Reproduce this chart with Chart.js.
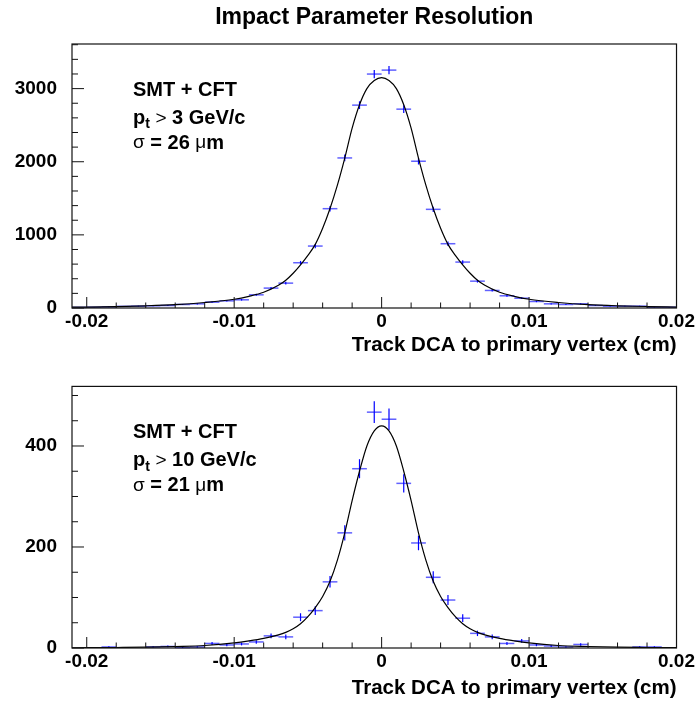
<!DOCTYPE html>
<html>
<head>
<meta charset="utf-8">
<script src="https://cdn.jsdelivr.net/npm/chart.js@4.4.0/dist/chart.umd.min.js"></script>
<style>
body { margin: 0; background: #fff; }
#wrap { position: relative; width: 697px; height: 702px; }
canvas { position: absolute; left: 0; }
</style>
</head>
<body>
<div id="wrap">
<canvas id="chart_3gev" width="697" height="360" style="top:0px"></canvas>
<canvas id="chart_10gev" width="697" height="342" style="top:360px"></canvas>
</div>
<script>
// DATA
const bin_centers = [-0.0205,-0.0195,-0.0185,-0.0175,-0.0165,-0.0155,-0.0145,-0.0135,-0.0125,-0.0115,
	-0.0105,-0.0095,-0.0085,-0.0075,-0.0065,-0.0055,-0.0045,-0.0035,-0.0025,-0.0015,-0.0005,
	0.0005,0.0015,0.0025,0.0035,0.0045,0.0055,0.0065,0.0075,0.0085,0.0095,
	0.0105,0.0115,0.0125,0.0135,0.0145,0.0155,0.0165,0.0175,0.0185,0.0195];

const counts_3gev = [8,10,15,22,25,30,34,48,57,80,
	98,112,180,272,340,619,847,1358,2052,2774,3199,
	3253,2719,2007,1349,879,628,367,240,167,134,
	89,57,48,57,34,25,25,25,10,10];

const counts_10gev = [0,0,2,0,0,2,3,1,2,9,
	6,8,12,24,22,61,74,131,228,355,467,
	453,326,208,140,95,59,29,22,9,14,
	6,4,2,7,0,0,0,2,2,0];

// fit curve
const fit_x = [-0.021,-0.02,-0.018,-0.016,-0.014,-0.012,-0.01,-0.009,-0.008,-0.007,-0.0065,-0.006,
	-0.0055,-0.005,-0.0045,-0.004,-0.0035,-0.003,-0.0025,-0.002,-0.0015,-0.001,-0.0005,0,
	0.0005,0.001,0.0015,0.002,0.0025,0.003,0.0035,0.004,0.0045,0.005,0.0055,
	0.006,0.0065,0.007,0.008,0.009,0.01,0.012,0.014,0.016,0.018,0.02];

const fit_3gev = [11,13,20,30,46,75,120,160,215,310,380,475,
	590,720,870,1090,1360,1680,2050,2460,2780,3000,3110,3150,
	3110,3000,2780,2460,2050,1680,1360,1090,870,720,590,
	475,380,310,215,160,120,75,46,30,20,13];

const fit_10gev = [0.5,0.6,1,1.6,3,5,10,14,19,26,31,38,
	48,62,80,102,132,174,228,292,350,400,430,440,
	430,400,350,292,228,174,132,102,80,62,48,
	38,31,26,19,14,10,5,3,1.6,1,0.6];

const x_ticks = [-0.02, -0.01, 0, 0.01, 0.02];
const x_tick_labels = ['-0.02', '-0.01', '0', '0.01', '0.02'];
const y_ticks_3gev = [0, 1000, 2000, 3000];
const y_ticks_10gev = [0, 200, 400];

const chart_title = 'Impact Parameter Resolution';
const x_title = 'Track DCA to primary vertex (cm)';

const FAMILY = '"Liberation Sans", Arial, Helvetica, sans-serif';
Chart.defaults.font.family = FAMILY;
Chart.defaults.color = '#000';

// FRAME + INWARD TICKS (ROOT style)
const rootFrame = {
	id: 'rootFrame',
	afterDraw(chart, args, opts){
		const ctx = chart.ctx, a = chart.chartArea;
		const xs = chart.scales.x, ys = chart.scales.y;
		ctx.save();
		ctx.strokeStyle = '#111';
		ctx.lineWidth = 1.2;
		ctx.strokeRect(a.left, a.top, a.right - a.left, a.bottom - a.top);
		ctx.lineWidth = 1;
		ctx.beginPath();
		for(let v = -0.02; v <= 0.0201; v += 0.002){
			const px = xs.getPixelForValue(v);
			const major = Math.abs(Math.round(v / 0.01) * 0.01 - v) < 1e-9;
			ctx.moveTo(px, a.bottom);
			ctx.lineTo(px, a.bottom - (major ? 11 : 5.5));
		}
		for(let v = 0; v <= ys.max; v += opts.yMinor){
			const py = ys.getPixelForValue(v);
			const major = opts.yMajor.includes(v);
			ctx.moveTo(a.left, py);
			ctx.lineTo(a.left + (major ? 12 : 6), py);
		}
		ctx.stroke();
		ctx.restore();
	}
};

// HISTOGRAM ERROR CROSSES
const errorBars = {
	id: 'errorBars',
	beforeDatasetsDraw(chart, args, opts){
		const ctx = chart.ctx, xs = chart.scales.x, ys = chart.scales.y;
		const ds = chart.data.datasets[0];
		ctx.save();
		ds.data.forEach(p => {
			if(p.y <= 0) return;
			const err = Math.sqrt(p.y);
			const xl = xs.getPixelForValue(p.x - opts.halfWidth);
			const xr = xs.getPixelForValue(p.x + opts.halfWidth);
			const xc = xs.getPixelForValue(p.x);
			const yc = ys.getPixelForValue(p.y);
			ctx.strokeStyle = 'rgba(30,30,255,0.7)';
			ctx.lineWidth = 1.5;
			ctx.beginPath(); ctx.moveTo(xl, yc); ctx.lineTo(xr, yc); ctx.stroke();
			ctx.strokeStyle = '#0000ff';
			ctx.lineWidth = 1.2;
			ctx.beginPath();
			ctx.moveTo(xc, ys.getPixelForValue(p.y + err));
			ctx.lineTo(xc, ys.getPixelForValue(Math.max(0, p.y - err)));
			ctx.stroke();
		});
		ctx.restore();
	}
};

// TEXT BOX IN PANEL
const panelText = {
	id: 'panelText',
	afterDraw(chart, args, opts){
		const ctx = chart.ctx, a = chart.chartArea;
		ctx.save();
		ctx.fillStyle = '#000';
		ctx.textBaseline = 'middle';
		ctx.textAlign = 'left';
		opts.lines.forEach((line, i) => {
			let x = a.left + opts.dx;
			const y = a.top + opts.dy[i];
			line.forEach(seg => {
				const size = seg.sub ? 14 : (seg.sym ? 19 : 20);
				ctx.font = (seg.sym ? 'normal ' : 'bold ') + size + 'px ' + FAMILY;
				ctx.fillText(seg.t, x, y + (seg.sub ? 6 : 0));
				x += ctx.measureText(seg.t).width;
			});
		});
		ctx.restore();
	}
};

function buildChart(id, counts, fit, cfg){
	return new Chart(document.getElementById(id), {
		type: 'scatter',
		data: {
			datasets: [{
				label: 'data',
				data: bin_centers.map((x, i) => ({x: x, y: counts[i]})),
				pointRadius: 0,
				showLine: false
			},{
				label: 'fit',
				data: fit_x.map((x, i) => ({x: x, y: fit[i]})),
				showLine: true,
				borderColor: '#000',
				borderWidth: 1.2,
				pointRadius: 0,
				cubicInterpolationMode: 'monotone',
				fill: false
			}]
		},
		options: {
			responsive: false,
			animation: false,
			events: [],
			layout: { padding: { top: cfg.padTop, right: 20, left: 0, bottom: 0 } },
			plugins: {
				legend: { display: false },
				tooltip: { enabled: false },
				title: cfg.title ? {
					display: true,
					text: cfg.title,
					fullSize: false,
					font: { size: 23, weight: 'bold' },
					color: '#000',
					padding: { top: 3.6, bottom: 12.8 }
				} : { display: false },
				rootFrame: { yMinor: cfg.yMinor, yMajor: cfg.yTicks },
				errorBars: { halfWidth: 0.0005 },
				panelText: { dx: 61, dy: [46, 74.5, 99], lines: cfg.lines }
			},
			scales: {
				x: {
					type: 'linear',
					min: -0.021,
					max: 0.02,
					grid: { display: false, drawTicks: false },
					border: { display: false },
					afterBuildTicks: s => { s.ticks = x_ticks.map(v => ({value: v})); },
					afterFit: s => { s.height = cfg.xHeight; },
					ticks: {
						font: { size: 19, weight: 'bold' },
						color: '#000',
						padding: 2,
						maxRotation: 0,
						autoSkip: false,
						callback: (v, i) => x_tick_labels[i]
					},
					title: {
						display: true,
						text: x_title,
						align: 'end',
						font: { size: 20.5, weight: 'bold' },
						color: '#000',
						padding: { top: 0, bottom: cfg.xTitlePad }
					}
				},
				y: {
					type: 'linear',
					min: 0,
					max: cfg.yMax,
					grid: { display: false, drawTicks: false },
					border: { display: false },
					afterBuildTicks: s => { s.ticks = cfg.yTicks.map(v => ({value: v})); },
					afterFit: s => { s.width = 72; },
					ticks: {
						font: { size: 19, weight: 'bold' },
						color: '#000',
						padding: 15,
						autoSkip: false,
						callback: (v, i) => String(cfg.yTicks[i])
					}
				}
			}
		},
		plugins: [errorBars, rootFrame, panelText]
	});
}

buildChart('chart_3gev', counts_3gev, fit_3gev, {
	title: chart_title,
	padTop: 0,
	xHeight: 52,
	xTitlePad: 2,
	yMax: 3610,
	yTicks: y_ticks_3gev,
	yMinor: 200,
	lines: [
		[{t: 'SMT + CFT'}],
		[{t: 'p'}, {t: 't', sub: true}, {t: ' '}, {t: '>', sym: true}, {t: ' 3 GeV/c'}],
		[{t: 'σ', sym: true}, {t: ' = 26 '}, {t: 'μ', sym: true}, {t: 'm'}]
	]
});

buildChart('chart_10gev', counts_10gev, fit_10gev, {
	title: null,
	padTop: 24,
	xHeight: 54,
	xTitlePad: 1,
	yMax: 518,
	yTicks: y_ticks_10gev,
	yMinor: 50,
	lines: [
		[{t: 'SMT + CFT'}],
		[{t: 'p'}, {t: 't', sub: true}, {t: ' '}, {t: '>', sym: true}, {t: ' 10 GeV/c'}],
		[{t: 'σ', sym: true}, {t: ' = 21 '}, {t: 'μ', sym: true}, {t: 'm'}]
	]
});
</script>
</body>
</html>
